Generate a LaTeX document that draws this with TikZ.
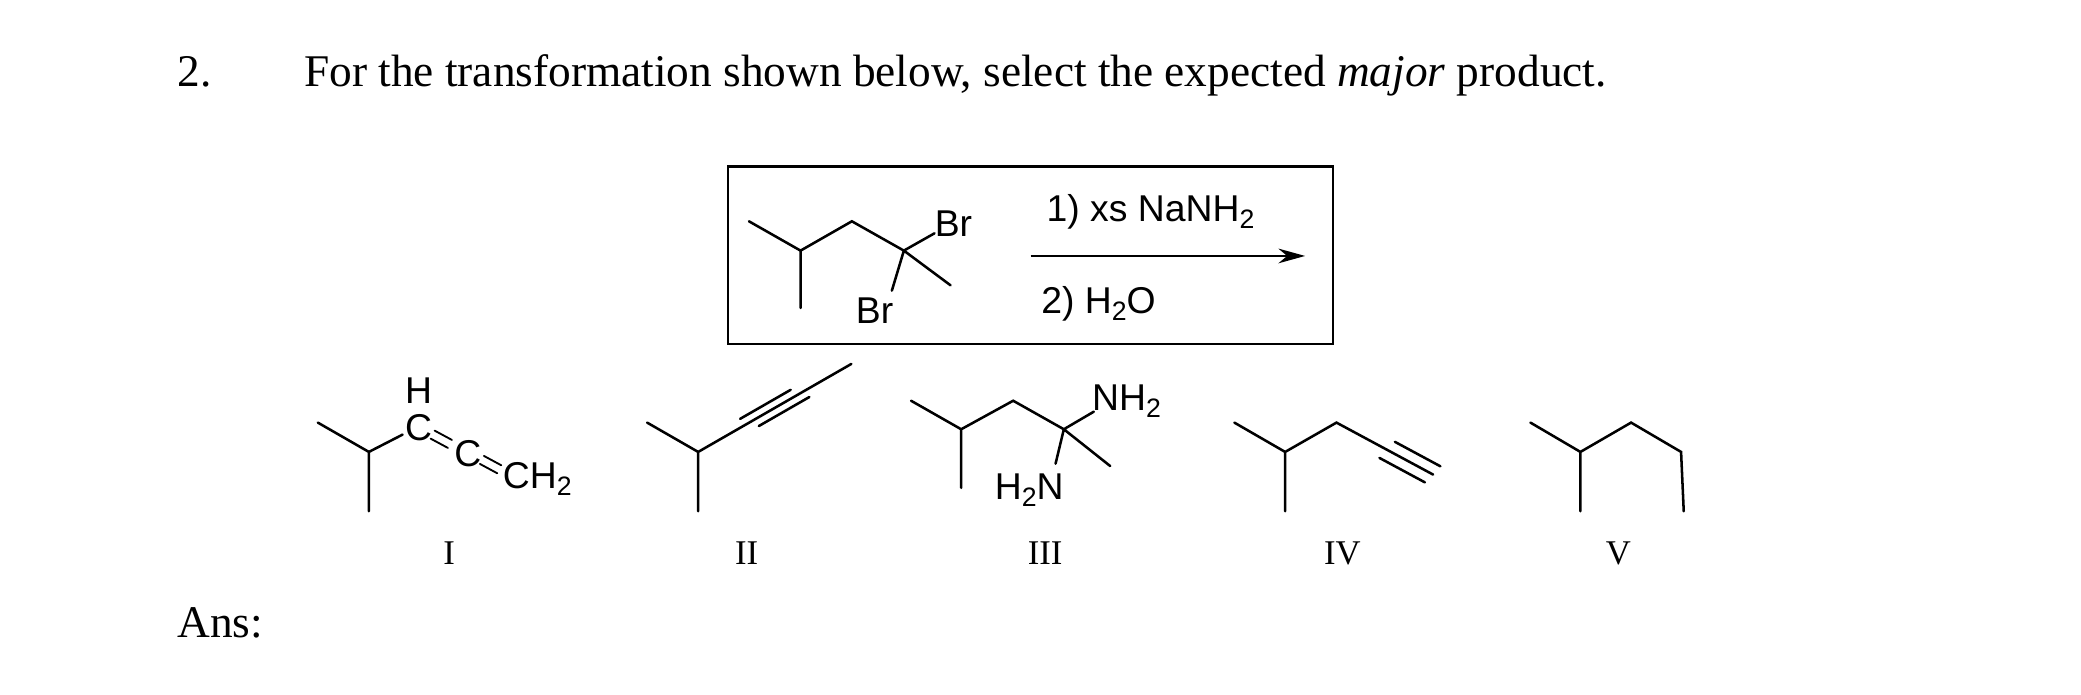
\documentclass[tikz,border=0pt]{standalone}
\usepackage{fontspec}
\setmainfont{Liberation Serif}
\newfontfamily\chemfont{Liberation Sans}
\usetikzlibrary{arrows.meta,calc}
\newcommand{\subtwo}{\raisebox{-0.35ex}{\fontsize{20}{22}\selectfont 2}}
\begin{document}
\begin{tikzpicture}[x=1pt,y=-1pt,
  bond/.style={line width=1.9pt,line cap=round},
  title/.style={font=\fontsize{34}{40}\selectfont,inner sep=0,anchor=base west},
  atom/.style={font=\chemfont\fontsize{28}{32}\selectfont,inner sep=1pt},
  numlab/.style={font=\fontsize{26}{30}\selectfont,inner sep=0}]
\useasboundingbox (0,0) rectangle (1561,521);
\node[title] (num) at (133,65) {2.};
\node[title] (q) at (228,65) {For the transformation shown below, select the expected \textit{major} product.};
\node[title] (ans) at (133,478) {Ans:};
% box
\node[draw,line width=1.8pt,minimum width=454pt,minimum height=133pt,inner sep=0] (box) at (773,191.5) {};
% reactant
\coordinate (r1) at (561.8,166);
\coordinate (r2) at (600.5,188);
\coordinate (r3) at (600.5,231);
\coordinate (r4) at (639,166);
\coordinate (r5) at (678,188);
\coordinate (r6) at (713,214);
\coordinate (rb1) at (701,175);
\coordinate (rb2) at (669,218);
\node[atom,anchor=west] (rbr1) at (700,168) {Br};
\node[atom] (rbr2) at (656,233) {Br};
\draw[bond] (r1)--(r2)--(r4)--(r5)--(r6) (r2)--(r3) (r5)--(rb1) (r5)--(rb2);
% arrow
\coordinate (a1) at (773,192);
\coordinate (a2) at (979,192);
\draw[line width=1.8pt,-{Stealth[length=20pt,width=11pt]}] (a1)--(a2);
\node[atom] (c1) at (863,159) {1) xs NaNH\subtwo};
\node[atom] (c2) at (824,228) {2) H\subtwo O};
% I
\coordinate (i1) at (238.4,317);
\coordinate (i2) at (276.7,339);
\coordinate (i3) at (276.7,383.5);
\node[atom] (iC1) at (314,321) {C};
\node[atom] (iH) at (314,293) {H};
\node[atom] (iC2) at (351,340) {C};
\node[atom,anchor=west] (iCH2) at (376,359) {CH\subtwo};
\draw[bond] (i1)--(i2)--(i3) (i2)--(302,326);
\draw[bond,line width=1.4pt] (326,323)--(339,330) (323,329)--(336,336);
\draw[bond,line width=1.4pt] (363,342)--(376,349) (360,348)--(373,355);
% II
\coordinate (ii1) at (485.4,317);
\coordinate (ii2) at (523.7,339);
\coordinate (ii3) at (523.7,383.5);
\coordinate (ii4) at (638.6,273);
\draw[bond] (ii1)--(ii2)--(ii3) (ii2)--(ii4);
\draw[bond] ($(ii2)!0.3!(ii4)+(-3,-5)$)--($(ii2)!0.63!(ii4)+(-3,-5)$);
\draw[bond] ($(ii2)!0.37!(ii4)+(3,5)$)--($(ii2)!0.7!(ii4)+(3,5)$);
% III
\coordinate (t1) at (683.4,300.6);
\coordinate (t2) at (721,322);
\coordinate (t3) at (721,366);
\coordinate (t4) at (760,300.6);
\coordinate (t5) at (798,322);
\coordinate (t6) at (832.8,349.6);
\coordinate (tb1) at (820.5,308.8);
\coordinate (tb2) at (791.8,347.8);
\node[atom,anchor=west] (tN1) at (818,300.6) {NH\subtwo};
\node[atom] (tN2) at (772,368) {H\subtwo N};
\draw[bond] (t1)--(t2)--(t4)--(t5)--(t6) (t2)--(t3) (t5)--(tb1) (t5)--(tb2);
% IV
\coordinate (v1) at (925.9,317);
\coordinate (v2) at (964,339);
\coordinate (v3) at (964,383.5);
\coordinate (v4) at (1002.5,317);
\coordinate (v5) at (1075,356);
\draw[bond] (v1)--(v2)--(v4)--(v5) (v2)--(v3);
\draw[bond] ($(v4)!0.55!(v5)+(4,-7)$)--($(v4)!1.02!(v5)+(4,-7)$);
\draw[bond] ($(v4)!0.5!(v5)+(-4,7)$)--($(v4)!0.97!(v5)+(-4,7)$);
% V
\coordinate (w1) at (1148,317);
\coordinate (w2) at (1185.5,339);
\coordinate (w3) at (1185.5,383.5);
\coordinate (w4) at (1223.5,317);
\coordinate (w5) at (1261,339);
\coordinate (w6) at (1263,383.5);
\draw[bond] (w1)--(w2)--(w4)--(w5)--(w6) (w2)--(w3);
% labels
\node[numlab] (L1) at (337,415) {I};
\node[numlab] (L2) at (560,415) {II};
\node[numlab] (L3) at (784,415) {III};
\node[numlab] (L4) at (1007,415) {IV};
\node[numlab] (L5) at (1214,415) {V};
\end{tikzpicture}
\end{document}
